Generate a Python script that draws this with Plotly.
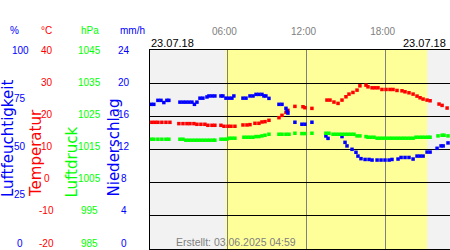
import plotly.graph_objects as go

# ---------------- data (time in hours of 23.07.18) ----------------
temp_t = [0.27, 0.50, 0.73, 1.03, 1.34, 1.64, 2.32, 2.63, 2.93, 3.16, 3.46, 3.69, 3.99, 4.29,
          4.52, 4.83, 5.05, 5.51, 5.74, 6.04, 6.27, 6.57, 7.18, 7.48, 7.71, 8.09, 8.39, 8.62,
          8.85, 9.15, 9.91, 10.14, 10.44, 10.59, 11.12, 11.73, 11.88, 12.41, 13.55, 13.78,
          14.08, 14.39, 14.69, 14.99, 15.22, 15.52, 15.83, 16.05, 16.51, 16.66, 16.97, 17.19,
          17.42, 17.72, 18.03, 18.33, 18.56, 18.86, 19.24, 19.47, 19.77, 20.08, 20.38, 20.61,
          20.84, 21.14, 21.37, 22.05, 22.28, 22.66]
temp_v = [18.2, 18.2, 18.2, 18.2, 18.2, 18.2, 17.8, 17.8, 17.8, 17.8, 17.8, 17.6, 17.6, 17.6,
          17.3, 17.3, 17.3, 17.3, 17.0, 17.0, 17.0, 17.0, 17.4, 17.4, 17.5, 17.9, 17.9, 18.3,
          18.4, 18.8, 19.6, 20.3, 21.2, 21.8, 23.0, 22.9, 22.6, 22.4, 24.9, 24.9,
          24.3, 23.9, 24.9, 25.9, 26.7, 27.2, 27.9, 29.2, 29.4, 28.9, 28.6, 28.6,
          28.6, 28.1, 28.1, 28.1, 28.1, 27.8, 27.7, 27.4, 27.1, 26.7, 26.1, 25.6,
          25.2, 24.9, 24.7, 23.7, 23.3, 22.5]

hum_t = [0.20, 0.42, 0.73, 0.96, 1.18, 1.41, 1.56, 2.40, 2.63, 2.85, 3.08, 3.31, 3.50, 3.69,
         3.92, 4.14, 4.45, 4.60, 4.83, 5.05, 5.51, 5.66, 5.89, 6.12, 6.34, 6.49, 7.18, 7.41,
         7.71, 7.94, 8.17, 8.39, 8.62, 8.77, 8.92, 9.15, 9.91, 10.14, 10.44, 10.52, 10.59,
         11.12, 11.65, 11.88, 12.41, 13.47, 13.63, 14.69, 14.92, 15.07, 15.45, 15.75, 15.90,
         16.13, 16.44, 16.74, 16.97, 17.35, 17.65, 17.95, 18.26, 18.48, 18.94, 19.17, 19.47,
         19.77, 20.08, 20.38, 20.61, 20.84, 21.14, 21.37, 21.90, 22.20, 22.36, 22.73]
hum_v = [72.7, 72.7, 74.7, 74.7, 73.6, 74.7, 74.7, 73.8, 73.8, 73.8, 73.8, 73.8, 72.7, 73.8,
         75.8, 75.8, 76.4, 76.9, 76.9, 76.9, 76.9, 76.9, 75.8, 75.8, 75.8, 76.9, 75.8, 75.8,
         76.9, 76.9, 77.7, 77.7, 77.7, 76.9, 76.9, 75.7, 72.7, 72.7, 70.7, 69.3, 68.3,
         63.7, 62.7, 62.7, 63.7, 56.8, 55.6, 56.5, 53.6, 51.8, 50.1, 48.6, 46.7,
         45.4, 45.0, 45.0, 44.7, 44.7, 44.7, 44.7, 44.7, 45.0, 45.2, 46.0, 46.0,
         46.0, 45.2, 46.7, 46.7, 46.7, 48.7, 48.7, 50.6, 51.8, 51.8, 53.3]

pres_t = [0.20, 0.42, 0.73, 1.03, 1.34, 1.56, 2.40, 2.63, 2.85, 3.08, 3.31, 3.54, 3.76, 3.99,
          4.22, 4.45, 4.67, 4.90, 5.05, 5.51, 5.74, 5.96, 6.12, 6.34, 6.57, 7.25, 7.48, 7.71,
          7.94, 8.17, 8.39, 8.62, 8.85, 9.15, 9.91, 10.14, 10.44, 10.67, 11.12, 11.65, 11.88,
          12.41, 13.47, 13.70, 14.01, 14.23, 14.46, 14.69, 14.92, 15.14, 15.37, 15.60, 15.83,
          16.05, 16.51, 16.66, 16.89, 17.12, 17.35, 17.57, 17.80, 18.03, 18.26, 18.48, 18.71,
          18.94, 19.17, 19.39, 19.62, 19.85, 20.08, 20.30, 20.53, 20.76, 20.99, 21.21, 21.37,
          21.97, 22.28, 22.43, 22.73]
pres_v = [1018.1, 1018.1, 1018.1, 1018.1, 1018.1, 1018.1, 1018.1, 1018.1, 1017.8, 1017.8,
          1017.8, 1017.8, 1017.8, 1017.8, 1017.8, 1017.8, 1017.8, 1017.8, 1017.8, 1018.1,
          1018.1, 1018.1, 1018.4, 1018.4, 1018.4, 1018.7, 1018.7, 1018.7, 1018.7, 1018.9,
          1018.9, 1019.1, 1019.3, 1019.6, 1019.6, 1019.6, 1019.6, 1019.6, 1019.9, 1019.8,
          1019.8, 1019.9, 1019.9, 1019.9, 1019.6, 1019.6, 1019.6, 1019.6, 1019.6, 1019.6,
          1019.6, 1019.6, 1019.1, 1019.1, 1018.9, 1018.7, 1018.7, 1018.7, 1018.4, 1018.4,
          1018.4, 1018.4, 1018.4, 1018.4, 1018.4, 1018.4, 1018.4, 1018.4, 1018.4, 1018.4,
          1018.4, 1018.7, 1018.7, 1018.7, 1018.7, 1018.7, 1018.7, 1019.1, 1019.3, 1019.3,
          1019.1]

time_ticks = [6, 12, 18]
time_labels = ["06:00", "12:00", "18:00"]
hum_ticks = [100, 75, 50, 25, 0]
temp_ticks = [40, 30, 20, 10, 0, -10, -20]
pres_ticks = [1045, 1035, 1025, 1015, 1005, 995, 985]
rain_ticks = [24, 20, 16, 12, 8, 4, 0]
date_label = "23.07.18"
daylight = (5.85, 21.15)
created = "Erstellt: 03.06.2025 04:59"

# ---------------- layout helpers ----------------
W, H = 450, 250
L, T, B = 150, 50, 1
PW, PH = W - L, H - T - B

def pxx(x):
    return (x - L) / PW

def pxy(y):
    return (H - B - y) / PH

BLUE, RED, GREEN = "#0000ff", "#ff0000", "#00ff00"
FONT = "Liberation Sans, Arial, sans-serif"
MS = 3.5

fig = go.Figure()
fig.add_trace(go.Scatter(x=hum_t, y=hum_v, yaxis="y2", mode="markers",
                         marker=dict(symbol="square", size=MS, color=BLUE, line=dict(width=0))))
fig.add_trace(go.Scatter(x=pres_t, y=pres_v, yaxis="y3", mode="markers",
                         marker=dict(symbol="square", size=MS, color=GREEN, line=dict(width=0))))
fig.add_trace(go.Scatter(x=temp_t, y=temp_v, yaxis="y", mode="markers",
                         marker=dict(symbol="square", size=MS, color=RED, line=dict(width=0))))

ann = []

def tick_col(ticks, lo, hi, xc, color):
    for v in ticks:
        f = (v - lo) / (hi - lo)
        ypix = 50 + (1 - f) * 193
        ann.append(dict(x=pxx(xc), y=pxy(ypix), xref="paper", yref="paper", text=str(v),
                        showarrow=False, xanchor="center", yanchor="middle",
                        font=dict(family=FONT, size=10, color=color)))

tick_col(hum_ticks, 0, 100, 20, BLUE)
tick_col(temp_ticks, -20, 40, 46.5, RED)
tick_col(pres_ticks, 985, 1045, 89.5, GREEN)
tick_col(rain_ticks, 0, 24, 124, BLUE)

for txt, xc, col in [("%", 14, BLUE), ("°C", 46.5, RED), ("hPa", 90, GREEN), ("mm/h", 132, BLUE)]:
    ann.append(dict(x=pxx(xc), y=pxy(30.5), xref="paper", yref="paper", text=txt,
                    showarrow=False, xanchor="center", yanchor="middle",
                    font=dict(family=FONT, size=10, color=col)))

# rotated axis titles: (text, x centre px, y centre px, colour)
for txt, xc, yc, col in [("Luftfeuchtigkeit", 7.5, 138.5, BLUE), ("Temperatur", 35.5, 153.5, RED),
                         ("Luftdruck", 71, 162.5, GREEN), ("Niederschlag", 113, 147.5, BLUE)]:
    ann.append(dict(x=pxx(xc), y=pxy(yc), xref="paper", yref="paper", text=txt,
                    textangle=-90, showarrow=False, xanchor="center", yanchor="middle",
                    font=dict(family="DejaVu Sans", size=15, color=col)))

ann.append(dict(x=pxx(149), y=pxy(43), xref="paper", yref="paper", text=date_label,
                showarrow=False, xanchor="left", yanchor="middle",
                font=dict(family=FONT, size=11, color="black")))
ann.append(dict(x=pxx(448), y=pxy(43), xref="paper", yref="paper", text=date_label,
                showarrow=False, xanchor="right", yanchor="middle",
                font=dict(family=FONT, size=11, color="black")))
ann.append(dict(x=pxx(174), y=pxy(241.5), xref="paper", yref="paper", text=created,
                showarrow=False, xanchor="left", yanchor="middle",
                font=dict(family=FONT, size=10.5, color="#808080")))

fig.update_layout(
    width=W, height=H,
    margin=dict(l=L, r=0, t=T, b=B, pad=0),
    paper_bgcolor="white", plot_bgcolor="#f2f2f2",
    showlegend=False,
    xaxis=dict(range=[0.13, 22.88], side="top", tickvals=time_ticks, ticktext=time_labels,
               showgrid=True, gridcolor="#808080", gridwidth=1, zeroline=False,
               showline=True, mirror=True, linecolor="black", linewidth=1, ticks="",
               tickfont=dict(family=FONT, size=10, color="#808080"),
               ticklabelstandoff=10, ticklabelshift=-3, fixedrange=True),
    yaxis=dict(range=[-20, 40], tick0=-20, dtick=10, showgrid=True, gridcolor="black",
               gridwidth=1, zeroline=False, showticklabels=False, ticks="",
               showline=True, linecolor="black", linewidth=1),
    yaxis2=dict(range=[0, 100], overlaying="y", visible=False),
    yaxis3=dict(range=[985, 1045], overlaying="y", visible=False),
    shapes=[dict(type="rect", xref="x", yref="paper", x0=daylight[0], x1=daylight[1],
                 y0=0, y1=1, fillcolor="#ffff99", line=dict(width=0), layer="below")],
    annotations=ann,
)

fig.write_html("out.html")
